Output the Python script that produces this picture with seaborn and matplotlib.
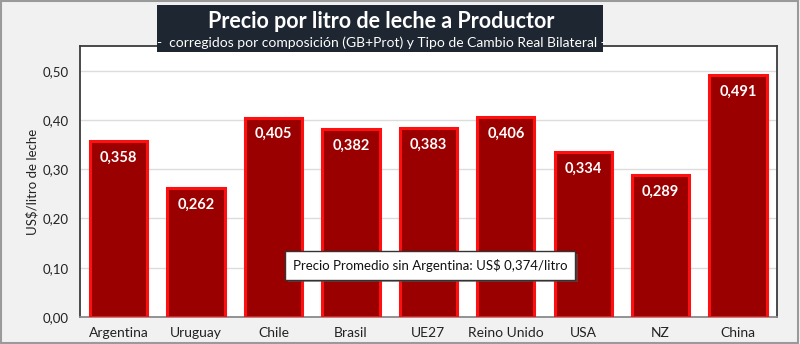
import matplotlib
matplotlib.use("Agg")
import matplotlib.pyplot as plt
from matplotlib.patches import Rectangle
import matplotlib.patheffects as pe
import seaborn as sns
import pandas as pd

countries = ["Argentina", "Uruguay", "Chile", "Brasil", "UE27", "Reino Unido", "USA", "NZ", "China"]
prices = [0.358, 0.262, 0.405, 0.382, 0.383, 0.406, 0.334, 0.289, 0.491]
yticks = [0.0, 0.1, 0.2, 0.3, 0.4, 0.5]
title = "Precio por litro de leche a Productor"
subtitle = "-  corregidos por composición (GB+Prot) y Tipo de Cambio Real Bilateral -"
ylabel = "US$/litro de leche"
avg_text = "Precio Promedio sin Argentina: US$ 0,374/litro"

sns.set_theme(style="white")
plt.rcParams['font.family'] = ['Lato', 'DejaVu Sans']

df = pd.DataFrame({"pais": countries, "precio": prices})

fig = plt.figure(figsize=(8, 3.44), dpi=100, facecolor="#f1f1f1")
ax = fig.add_axes([0.1, 0.0785, 0.871, 0.7875])
ax.set_facecolor("white")

sns.barplot(data=df, x="pais", y="precio", color="#9b0000", saturation=1,
            edgecolor="#ff1010", linewidth=2.2, width=0.74, ax=ax, zorder=3)

ax.set_ylim(0, 0.55)
ax.set_xlim(-0.5, len(countries) - 0.5)
ax.set_yticks(yticks)
ax.set_yticklabels([f"{v:.2f}".replace(".", ",") for v in yticks], fontsize=9.5, color="#222222")
ax.yaxis.grid(True, color="#dcdcdc", linewidth=1, zorder=0)
ax.set_axisbelow(True)
ax.tick_params(axis="x", labelsize=10, colors="#222222", length=0, pad=7)
ax.tick_params(axis="y", length=0, pad=8)
ax.set_xlabel("")
ax.set_ylabel(ylabel, fontsize=9.5, color="#222222", labelpad=3)

for side in ["left", "top", "right", "bottom"]:
    ax.spines[side].set_visible(True)
    ax.spines[side].set_color("#3c3c3c")
    ax.spines[side].set_linewidth(1.3)
ax.spines["bottom"].set_color("#8a8a8a")

for i, v in enumerate(prices):
    ax.annotate(f"{v:.3f}".replace(".", ","), xy=(i, v), xytext=(0, -12),
                textcoords="offset points", ha="center", va="center",
                color="white", fontsize=10.5, fontweight="bold", zorder=5)

t = ax.text(4.02, 0.105, avg_text, ha="center", va="center", fontsize=9.5, color="#111111",
            zorder=6,
            bbox=dict(boxstyle="square,pad=0.6", facecolor="white", edgecolor="#333333", linewidth=1))
t.get_bbox_patch().set_path_effects([pe.SimplePatchShadow(offset=(2, -2), shadow_rgbFace="#555555", alpha=0.6),
                                     pe.Normal()])

# title box
fig.patches.append(Rectangle((157 / 800, 1 - 52 / 344), (603 - 157) / 800, (52 - 5) / 344,
                             transform=fig.transFigure, facecolor="#1e2631", edgecolor="none", zorder=10))
fig.text(381 / 800, 1 - 21 / 344, title, ha="center", va="center", color="white",
         fontsize=15.5, fontweight="bold", zorder=11)
fig.text(381 / 800, 1 - 43 / 344, subtitle, ha="center", va="center", color="white",
         fontsize=10, zorder=11)

fig.patches.append(Rectangle((0.001, 0.002), 0.997, 0.995, transform=fig.transFigure,
                             facecolor="none", edgecolor="#9a9a9a", linewidth=1.5, zorder=12))

fig.savefig("out.png", dpi=100, facecolor=fig.get_facecolor())
